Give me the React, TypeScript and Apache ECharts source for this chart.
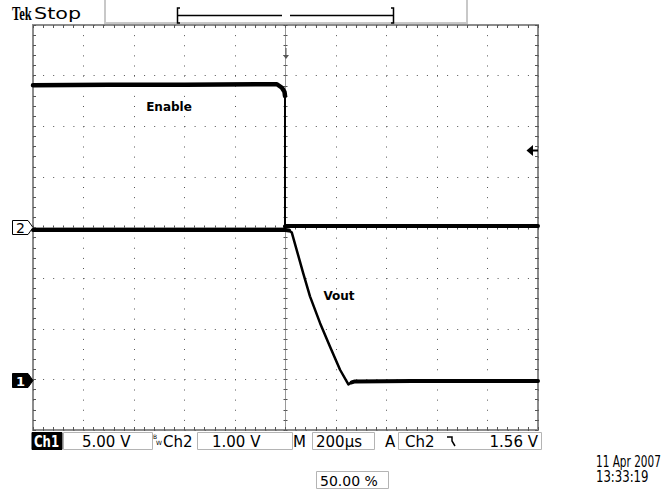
import React, { useEffect, useRef } from "react";
import * as echarts from "echarts";

// Horizontal axis: time in µs (200 µs / div, trigger at centre)
const timeMinUs = -1000;
const timeMaxUs = 1000;
const timePerDivUs = 200;
// Vertical axis: divisions from screen centre
const divMin = -4;
const divMax = 4;
const divStep = 1;

// Ch1 "Enable" trace
const enableTimeUs = [-1000, -700, -400, -100, -34, -14, -4, -2, -2, 6, 400, 1000];
const enableDiv = [2.81, 2.82, 2.82, 2.83, 2.83, 2.76, 2.68, 2.6, 0.02, 0.03, 0.03, 0.03];

// Ch2 "Vout" trace
const voutTimeUs = [-1000, -500, 0, 14, 25, 70, 97, 137, 176, 216, 249, 262, 275, 500, 1000];
const voutDiv = [-0.05, -0.05, -0.05, -0.06, -0.1, -0.9, -1.36, -1.89, -2.35, -2.81, -3.1, -3.06, -3.04, -3.03, -3.03];

// Readout texts
const headerBrand = "Tek";
const headerState = "Stop";
const ch1Name = "Ch1";
const ch1Scale = "5.00 V";
const ch2Name = "Ch2";
const ch2Scale = "1.00 V";
const timebaseLabel = "M";
const timebase = "200µs";
const triggerLabel = "A";
const triggerSource = "Ch2";
const triggerLevel = "1.56 V";
const triggerPosition = "50.00 %";
const dateText = "11 Apr 2007";
const clockText = "13:33:19";
const enableLabel = "Enable";
const voutLabel = "Vout";

const SANS = '"DejaVu Sans", sans-serif';

function txt(text: string, x: number, y: number, font: string, opts: any = {}) {
  return {
    type: "text",
    x,
    y,
    scaleX: opts.scaleX ?? 1,
    z: 100,
    style: {
      text,
      x: 0,
      y: 0,
      font,
      fill: opts.fill ?? "#000",
      align: opts.align ?? "left",
      textAlign: opts.align ?? "left",
      verticalAlign: "middle",
      textVerticalAlign: "middle",
    },
  };
}

function box(x: number, y: number, w: number, h: number, stroke = "#b4b4b4", fill = "#fff") {
  return {
    type: "rect",
    z: 90,
    shape: { x, y, width: w, height: h },
    style: { fill, stroke, lineWidth: 1 },
  };
}

function line(x1: number, y1: number, x2: number, y2: number, stroke = "#000", w = 1) {
  return {
    type: "line",
    z: 95,
    shape: { x1, y1, x2, y2 },
    style: { stroke, lineWidth: w },
  };
}

function pairs(times: number[], values: number[], from: number, to: number) {
  const out: number[][] = [];
  for (let i = from; i <= to; i++) out.push([times[i], values[i]]);
  return out;
}

function trace(name: string, data: number[][], width: number) {
  return {
    name,
    type: "line",
    xAxisIndex: 0,
    yAxisIndex: 0,
    data,
    symbol: "none",
    showSymbol: false,
    lineStyle: { color: "#000", width, cap: "round", join: "round" },
    z: 5,
  };
}

export default function App() {
  const ref = useRef<HTMLDivElement>(null);

  useEffect(() => {
    if (!ref.current) return;
    const chart = echarts.init(ref.current, undefined, { renderer: "svg" });

    const tickColor = "#555";
    const xBase = {
      type: "value",
      min: timeMinUs,
      max: timeMaxUs,
      interval: timePerDivUs,
      axisLabel: { show: false },
      splitLine: { show: false },
    };
    const yBase = {
      type: "value",
      min: divMin,
      max: divMax,
      interval: divStep,
      axisLabel: { show: false },
      splitLine: { show: false },
    };
    const borderTicks = {
      axisTick: { show: true, inside: true, length: 3, lineStyle: { color: tickColor, width: 1 } },
      minorTick: { show: true, splitNumber: 5, length: 3, lineStyle: { color: tickColor, width: 1 } },
    };
    const centreTicks = (inside: boolean) => ({
      axisLine: { show: true, onZero: true, onZeroAxisIndex: 0, lineStyle: { color: "#9a9a9a", width: 1 } },
      axisTick: { show: true, inside, length: 2, lineStyle: { color: tickColor, width: 1 } },
      minorTick: { show: true, splitNumber: 5, length: 2, lineStyle: { color: tickColor, width: 1 } },
    });

    const nE = enableTimeUs.length - 1;
    const nV = voutTimeUs.length - 1;

    const option: any = {
      animation: false,
      backgroundColor: "#fff",
      grid: {
        left: 33,
        right: 130,
        top: 25,
        bottom: 61,
        show: true,
        borderColor: "#8c8c8c",
        borderWidth: 2,
        backgroundColor: "#fff",
      },
      xAxis: [
        {
          ...xBase,
          position: "bottom",
          axisLine: { show: false, onZero: false },
          ...borderTicks,
          splitLine: { show: true, lineStyle: { color: "#555", width: 1, type: [1, 9.125] } },
        },
        { ...xBase, position: "top", axisLine: { show: false, onZero: false }, ...borderTicks },
        { ...xBase, position: "bottom", ...centreTicks(true) },
        { ...xBase, position: "bottom", ...centreTicks(false) },
      ],
      yAxis: [
        {
          ...yBase,
          position: "left",
          axisLine: { show: false, onZero: false },
          ...borderTicks,
          splitLine: { show: true, lineStyle: { color: "#555", width: 1, type: [1, 9.1] } },
        },
        { ...yBase, position: "right", axisLine: { show: false, onZero: false }, ...borderTicks },
        { ...yBase, position: "left", ...centreTicks(true) },
        { ...yBase, position: "left", ...centreTicks(false) },
      ],
      series: [
        // Enable: high level, falling edge, low level
        trace(enableLabel, pairs(enableTimeUs, enableDiv, 0, 7), 4.5),
        trace(enableLabel, pairs(enableTimeUs, enableDiv, 7, 8), 2),
        trace(enableLabel, pairs(enableTimeUs, enableDiv, 8, nE), 4),
        // Vout: before, discharge, after
        trace(voutLabel, pairs(voutTimeUs, voutDiv, 0, 3), 4),
        trace(voutLabel, pairs(voutTimeUs, voutDiv, 3, 11), 2.5),
        trace(voutLabel, pairs(voutTimeUs, voutDiv, 11, nV), 4),
      ],
      graphic: [
        // header
        txt(headerBrand, 12, 14, 'bold 18px "Liberation Serif", serif', { scaleX: 0.7 }),
        txt(headerState, 34, 14, `15px ${SANS}`, { scaleX: 1.38 }),
        line(105, 0, 105, 24, "#c8c8c8", 2),
        line(467, 0, 467, 24, "#c8c8c8", 2),
        line(105, 23, 467, 23, "#c8c8c8", 2),
        {
          type: "polyline",
          z: 95,
          shape: { points: [[180, 8], [177.5, 8], [177.5, 23], [180, 23]] },
          style: { stroke: "#000", lineWidth: 1.5, fill: "none" },
        },
        {
          type: "polyline",
          z: 95,
          shape: { points: [[391, 8], [393.5, 8], [393.5, 23], [391, 23]] },
          style: { stroke: "#000", lineWidth: 1.5, fill: "none" },
        },
        line(177.5, 15.5, 282, 15.5, "#000", 1.5),
        line(290, 15.5, 393.5, 15.5, "#000", 1.5),
        // trigger position arrow
        line(286, 48, 286, 57, "#555", 1),
        {
          type: "polygon",
          z: 95,
          shape: { points: [[283, 55], [289, 55], [286, 59]] },
          style: { fill: "#555" },
        },
        // trigger level arrow
        {
          type: "polygon",
          z: 95,
          shape: { points: [[526.5, 150.5], [533, 145], [533, 156]] },
          style: { fill: "#000" },
        },
        line(533, 150.5, 538, 150.5, "#000", 2),
        // channel markers
        {
          type: "polygon",
          z: 95,
          shape: { points: [[12.5, 220.5], [28, 220.5], [33, 227.5], [28, 234.5], [12.5, 234.5]] },
          style: { fill: "#fff", stroke: "#000", lineWidth: 1 },
        },
        txt("2", 20.5, 228, `14px ${SANS}`, { align: "center" }),
        {
          type: "polygon",
          z: 95,
          shape: { points: [[12.5, 373.5], [28, 373.5], [33, 380.5], [28, 387.5], [12.5, 387.5]] },
          style: { fill: "#000", stroke: "#000", lineWidth: 1 },
        },
        txt("1", 20.5, 381, `bold 13px ${SANS}`, { align: "center", fill: "#fff" }),
        // trace labels
        txt(enableLabel, 169, 107, `bold 12px ${SANS}`, { align: "center" }),
        txt(voutLabel, 339, 296, `bold 12px ${SANS}`, { align: "center" }),
        // status bar
        box(32, 432.5, 30, 17, "#000", "#000"),
        txt(ch1Name, 34, 441.5, `bold 15px ${SANS}`, { fill: "#fff", scaleX: 0.78 }),
        box(63.5, 432.5, 89, 17),
        txt(ch1Scale, 82, 441.5, `15px ${SANS}`),
        txt("B", 153, 436, `6px ${SANS}`),
        txt("W", 156, 442.5, `6px ${SANS}`),
        txt(ch2Name, 163, 441.5, `15px ${SANS}`),
        box(197.5, 432.5, 95, 17),
        txt(ch2Scale, 212, 441.5, `15px ${SANS}`),
        txt(timebaseLabel, 293, 441.5, `15px ${SANS}`),
        box(312.5, 432.5, 62, 17),
        txt(timebase, 316, 441.5, `15px ${SANS}`),
        txt(triggerLabel, 385, 441.5, `15px ${SANS}`),
        box(398.5, 432.5, 143, 17),
        txt(triggerSource, 405, 441.5, `15px ${SANS}`),
        {
          type: "polyline",
          z: 95,
          shape: { points: [[447, 437], [452, 437], [452, 441], [455, 446]] },
          style: { stroke: "#000", lineWidth: 1.5, fill: "none" },
        },
        txt(triggerLevel, 538, 441.5, `15px ${SANS}`, { align: "right" }),
        box(316.5, 471.5, 72, 17),
        txt(triggerPosition, 320, 480.5, `14px ${SANS}`),
        txt(dateText, 596, 462, `15px ${SANS}`, { scaleX: 0.7 }),
        txt(clockText, 596, 476.5, `15px ${SANS}`, { scaleX: 0.78 }),
      ],
    };

    chart.setOption(option);
    return () => chart.dispose();
  }, []);

  return (
    <div
      ref={ref}
      style={{ position: "absolute", left: 0, top: 0, width: 668, height: 491, background: "#fff" }}
    />
  );
}
